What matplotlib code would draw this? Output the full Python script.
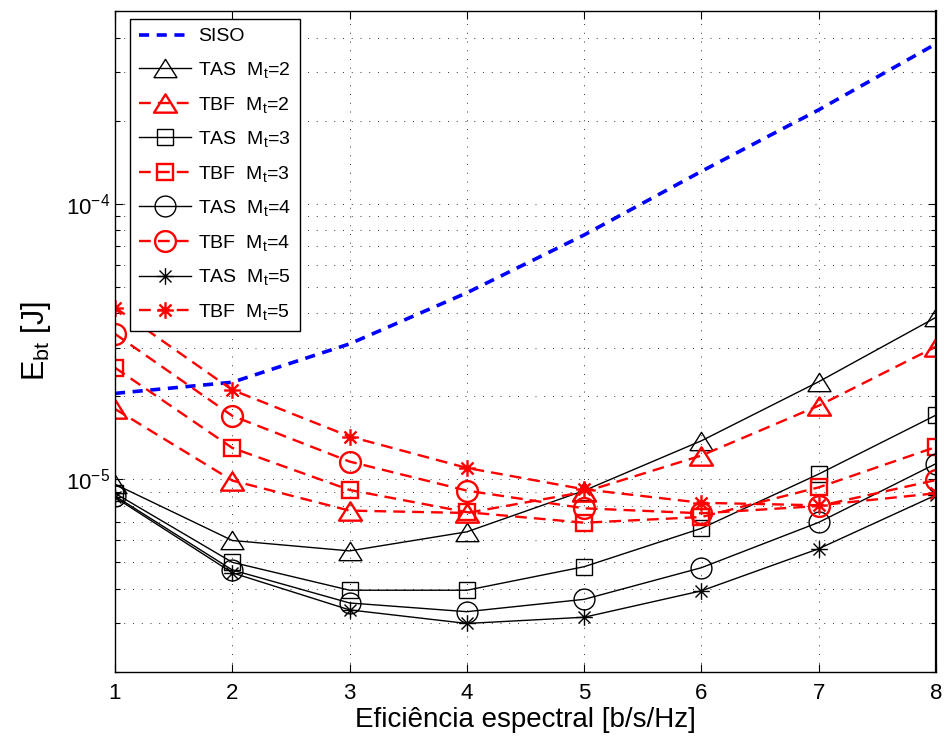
import numpy as np
import matplotlib
matplotlib.use("Agg")
import matplotlib.pyplot as plt
from matplotlib.path import Path
from matplotlib.ticker import LogLocator, NullFormatter, FixedLocator

plt.rcParams['font.family'] = ['Liberation Sans', 'DejaVu Sans']
plt.rcParams['mathtext.fontset'] = 'custom'
plt.rcParams['mathtext.rm'] = 'Liberation Sans'
plt.rcParams['mathtext.it'] = 'Liberation Sans:italic'
plt.rcParams['mathtext.bf'] = 'Liberation Sans:bold'
plt.rcParams['mathtext.default'] = 'regular'

# spectral efficiency [b/s/Hz]
eff = [1, 2, 3, 4, 5, 6, 7, 8]

# energy per bit [J]
siso = [2.05e-5, 2.25e-5, 3.1e-5, 4.75e-5, 7.7e-5, 1.31e-4, 2.19e-4, 3.8e-4]
tas2 = [9.6e-6, 6.0e-6, 5.5e-6, 6.45e-6, 9.1e-6, 1.38e-5, 2.26e-5, 3.87e-5]
tbf2 = [1.8e-5, 9.9e-6, 7.7e-6, 7.55e-6, 9.0e-6, 1.22e-5, 1.85e-5, 3.03e-5]
tas3 = [8.9e-6, 5.0e-6, 3.96e-6, 3.96e-6, 4.82e-6, 6.64e-6, 1.045e-5, 1.71e-5]
tbf3 = [2.54e-5, 1.30e-5, 9.15e-6, 7.6e-6, 6.96e-6, 7.3e-6, 9.35e-6, 1.31e-5]
tas4 = [8.7e-6, 4.69e-6, 3.56e-6, 3.31e-6, 3.67e-6, 4.78e-6, 6.98e-6, 1.14e-5]
tbf4 = [3.37e-5, 1.70e-5, 1.16e-5, 9.1e-6, 7.85e-6, 7.53e-6, 8.0e-6, 9.94e-6]
tas5 = [8.6e-6, 4.58e-6, 3.36e-6, 3.0e-6, 3.16e-6, 3.94e-6, 5.6e-6, 8.77e-6]
tbf5 = [4.2e-5, 2.11e-5, 1.43e-5, 1.10e-5, 9.2e-6, 8.22e-6, 8.05e-6, 8.9e-6]

labels = ['SISO',
          'TAS  M$_t$=2', 'TBF  M$_t$=2',
          'TAS  M$_t$=3', 'TBF  M$_t$=3',
          'TAS  M$_t$=4', 'TBF  M$_t$=4',
          'TAS  M$_t$=5', 'TBF  M$_t$=5']

# open triangle (wider than tall) and 8-arm asterisk markers
tri = Path([(0, 0.8), (-1, -0.8), (1, -0.8), (0, 0.8)],
           [Path.MOVETO, Path.LINETO, Path.LINETO, Path.CLOSEPOLY])
d = 0.72
ast = Path([(-1, 0), (1, 0), (0, -1), (0, 1), (-d, -d), (d, d), (-d, d), (d, -d)],
           [Path.MOVETO, Path.LINETO] * 4)

fig = plt.figure(figsize=(9.44, 7.36), dpi=100)
ax = fig.add_axes([115 / 944, 1 - 672 / 736, 821 / 944, 661 / 736])

red_dash = (0, (5.0, 3.0))
ax.plot(eff, siso, color='#0000ff', lw=2.6, linestyle=(0, (2.8, 2.1)), label=labels[0])

series = [(tas2, tbf2, tri, 16.5), (tas3, tbf3, 's', 12), (tas4, tbf4, 'o', 15), (tas5, tbf5, ast, 12)]
for i, (tas, tbf, mk, ms) in enumerate(series):
    ax.plot(eff, tas, color='k', lw=1.0, marker=mk, ms=ms, mfc='none', mec='k', mew=1.0,
            label=labels[1 + 2 * i])
    ax.plot(eff, tbf, color='#ff0000', lw=1.7, linestyle=red_dash, marker=mk, ms=ms, mfc='none',
            mec='#ff0000', mew=1.7, label=labels[2 + 2 * i])

ax.set_yscale('log')
ax.set_xlim(1, 8)
ax.set_ylim(2e-6, 5e-4)
ax.xaxis.set_major_locator(FixedLocator(eff))
ax.yaxis.set_major_locator(LogLocator(base=10))
ax.yaxis.set_minor_locator(LogLocator(base=10, subs=np.arange(2, 10)))
ax.yaxis.set_minor_formatter(NullFormatter())

grid_style = dict(linestyle=(0, (1, 8)), color='0.2', linewidth=0.7)
ax.grid(True, which='major', axis='both', **grid_style)
ax.grid(True, which='minor', axis='y', **grid_style)

ax.tick_params(which='both', direction='in', top=True, right=True, labelsize=16, colors='k')
ax.tick_params(which='major', length=6, width=0.8)
ax.tick_params(which='minor', length=3.5, width=0.8)
ax.tick_params(axis='x', pad=8)
ax.tick_params(axis='y', pad=3.5)
for s in ax.spines.values():
    s.set_linewidth(1.0)
    s.set_color('k')
ax.spines['right'].set_linewidth(1.6)

ax.set_xlabel('Eficiência espectral [b/s/Hz]', fontsize=20, labelpad=2)
ax.set_ylabel('E$_{bt}$ [J]', fontsize=22, labelpad=9)

leg = ax.legend(loc='upper left', bbox_to_anchor=(15 / 821, 1 - 8 / 661), borderaxespad=0,
                fontsize=14, frameon=True, fancybox=False, framealpha=1, edgecolor='k',
                handlelength=2.7, handletextpad=0.35, labelspacing=0.75, borderpad=0.45)
leg.get_frame().set_linewidth(1.0)

fig.savefig('out.png', dpi=100)
